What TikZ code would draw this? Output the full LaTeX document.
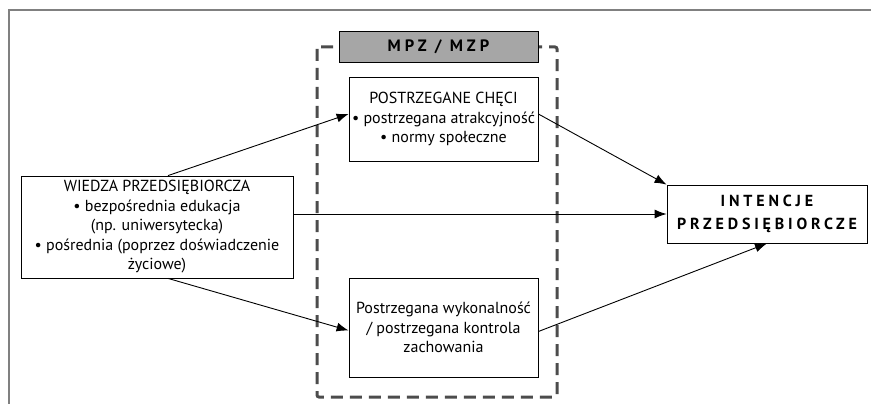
\documentclass[tikz,border=0pt]{standalone}
\usepackage{fontspec}
\setmainfont{PT Sans}
\newfontfamily\spaced[LetterSpace=24]{PT Sans}
\usetikzlibrary{arrows.meta}
\tikzset{
  box/.style={draw, line width=0.8pt, fill=white, align=center, inner sep=0pt,
    font=\fontsize{16}{19.5}\selectfont},
  link/.style={-{Latex[length=12pt,width=9pt]}, line width=0.9pt},
}
\begin{document}
\begin{tikzpicture}[x=1pt,y=-1pt]
                \useasboundingbox (0,0) rectangle (871,404);
                \draw [gray, line width=1.5pt] (871,10) -- (9,10) -- (9,404);
                \draw [black!70, line width=3pt, dash pattern=on 12pt off 7pt, rounded corners=2pt] (317,47) rectangle (557,397);
                \node [box, fill=black!35, minimum width=199pt, minimum height=31pt, font=\spaced\bfseries\fontsize{16.5}{19}\selectfont] (mpz) at (438.5,47) {MPZ / MZP};
                \node [box, minimum width=189pt, minimum height=84pt] (checi) at (443.5,119) {POSTRZEGANE CHĘCI\\ • postrzegana atrakcyjność\\ • normy społeczne};
                \node [box, minimum width=189pt, minimum height=99pt] (kontrola) at (443.5,327.5) {Postrzegana wykonalność\\ / postrzegana kontrola\\ zachowania};
                \node [box, minimum width=272pt, minimum height=102pt] (wiedza) at (157,227) {WIEDZA PRZEDSIĘBIORCZA\\ • bezpośrednia edukacja\\ (np. uniwersytecka)\\ • pośrednia (poprzez doświadczenie\\ życiowe)};
                \node [box, minimum width=200pt, minimum height=58pt, font=\spaced\bfseries\fontsize{16}{23}\selectfont] (intencje) at (767,214) {INTENCJE\\ PRZEDSIĘBIORCZE};
                \draw [link] ([xshift=11pt]wiedza.north) -- ([yshift=5pt]checi.west);
                \draw [link] ([yshift=5pt]checi.east) -- (intencje.north west);
                \draw [link] (wiedza.east |- intencje.west) -- (intencje.west);
                \draw [link] ([xshift=11pt]wiedza.south) -- ([yshift=-3pt]kontrola.west);
                \draw [link] ([yshift=-4pt]kontrola.east) -- (intencje.south);
            \end{tikzpicture}
\end{document}
